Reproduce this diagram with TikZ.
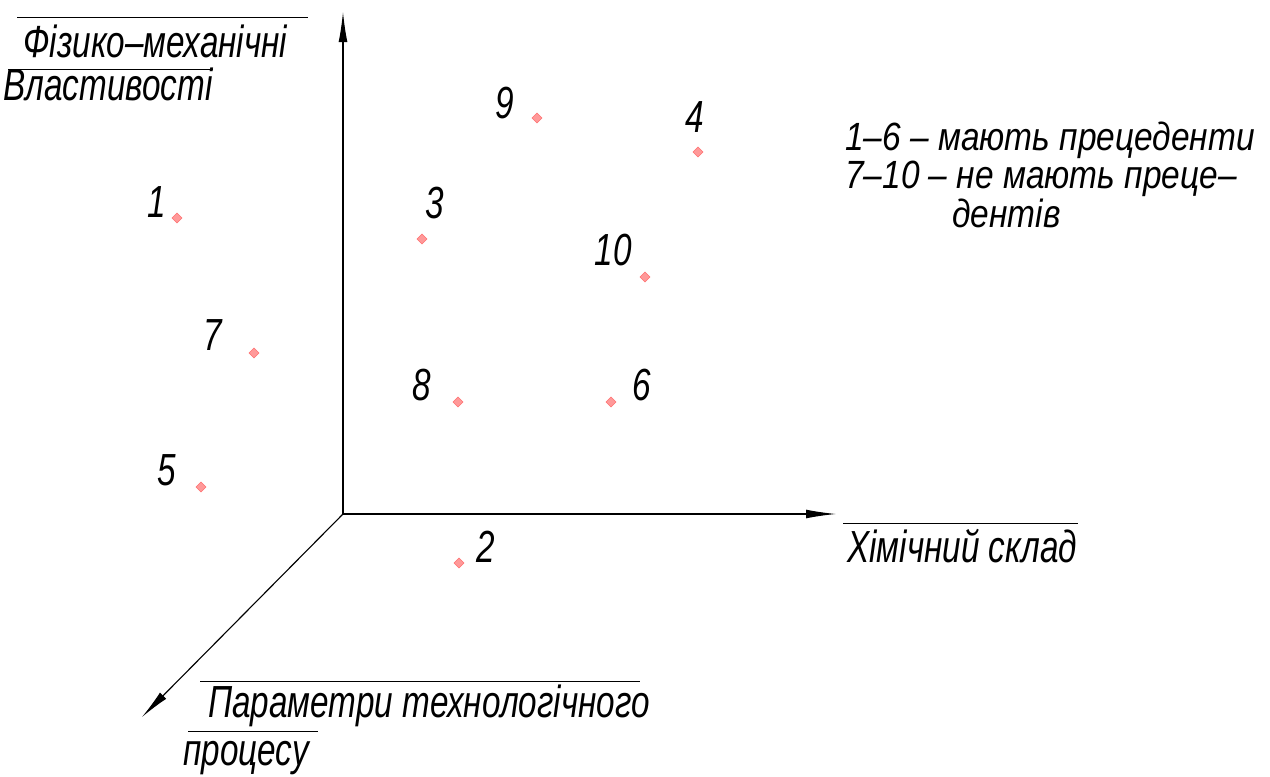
\documentclass[tikz,border=0pt]{standalone}
\usepackage{fontspec}
\setmainfont{Liberation Sans}[FakeStretch=0.74]
\newfontfamily\legfont{Liberation Sans}[FakeStretch=0.85]
\usepackage{tikz}
\usetikzlibrary{arrows.meta}
\usetikzlibrary{shapes.geometric}
\tikzset{
  axis/.style={line width=0.8pt, -{Latex[length=7.5mm,width=2.2mm]}},
  overbar/.style={line width=0.7pt},
  lbl/.style={inner sep=0pt, font=\fontsize{32}{38}\selectfont\itshape},
  leg/.style={inner sep=0pt, font=\legfont\fontsize{28}{34}\selectfont\itshape},
  pt/.style={diamond, inner sep=0pt, minimum size=2.6mm, fill=red!40, draw=red!55},
}
\begin{document}
\begin{tikzpicture}[x=0.25mm, y=-0.25mm]
  \useasboundingbox (0,0) rectangle (1270,776);
  \clip (0,0) rectangle (1270,776);

  \coordinate (O)    at (343,514);
  \coordinate (ytip) at (343,12);
  \coordinate (xtip) at (836,514);
  \coordinate (ztip) at (142,717);

  \draw[axis] (O) -- (ytip);
  \draw[axis] (O) -- (xtip);
  \draw[axis] (O) -- (ztip);

  \node[lbl, anchor=base west] (phys)  at (23,57)   {Фізико–механічні};
  \node[lbl, anchor=base west] (props) at (3,100)   {Властивості};
  \node[lbl, anchor=base west] (chem)  at (847,562) {Хімічний склад};
  \node[lbl, anchor=base west] (tech)  at (208,717) {Параметри технологічного};
  \node[lbl, anchor=base west] (proc)  at (183,765) {процесу};

  \draw[overbar] (17,17)   -- (308,17);
  \draw[overbar] (8,69)    -- (213,69);
  \draw[overbar] (843,523) -- (1078,523);
  \draw[overbar] (200,681) -- (640,681);
  \draw[overbar] (188,731) -- (318,731);

  \node[leg, anchor=base west] (leg1) at (845,150) {1–6 – мають прецеденти};
  \node[leg, anchor=base west] (leg2) at (845,188) {7–10 – не мають преце–};
  \node[leg, anchor=base west] (leg3) at (952,227) {дентів};

  \node[pt] (p1)  at (177,218) {};
  \node[pt] (p2)  at (459,563) {};
  \node[pt] (p3)  at (422,239) {};
  \node[pt] (p4)  at (698,152) {};
  \node[pt] (p5)  at (201,487) {};
  \node[pt] (p6)  at (611,402) {};
  \node[pt] (p7)  at (254,353) {};
  \node[pt] (p8)  at (458,402) {};
  \node[pt] (p9)  at (537,118) {};
  \node[pt] (p10) at (645,277) {};

  \node[lbl] (n1)  at (157,202) {1};
  \node[lbl] (n2)  at (486,547) {2};
  \node[lbl] (n3)  at (435,203) {3};
  \node[lbl] (n4)  at (695,117) {4};
  \node[lbl] (n5)  at (167,470) {5};
  \node[lbl] (n6)  at (642,385) {6};
  \node[lbl] (n7)  at (213,335) {7};
  \node[lbl] (n8)  at (422,385) {8};
  \node[lbl] (n9)  at (505,103) {9};
  \node[lbl] (n10) at (613,250) {10};
\end{tikzpicture}
\end{document}
